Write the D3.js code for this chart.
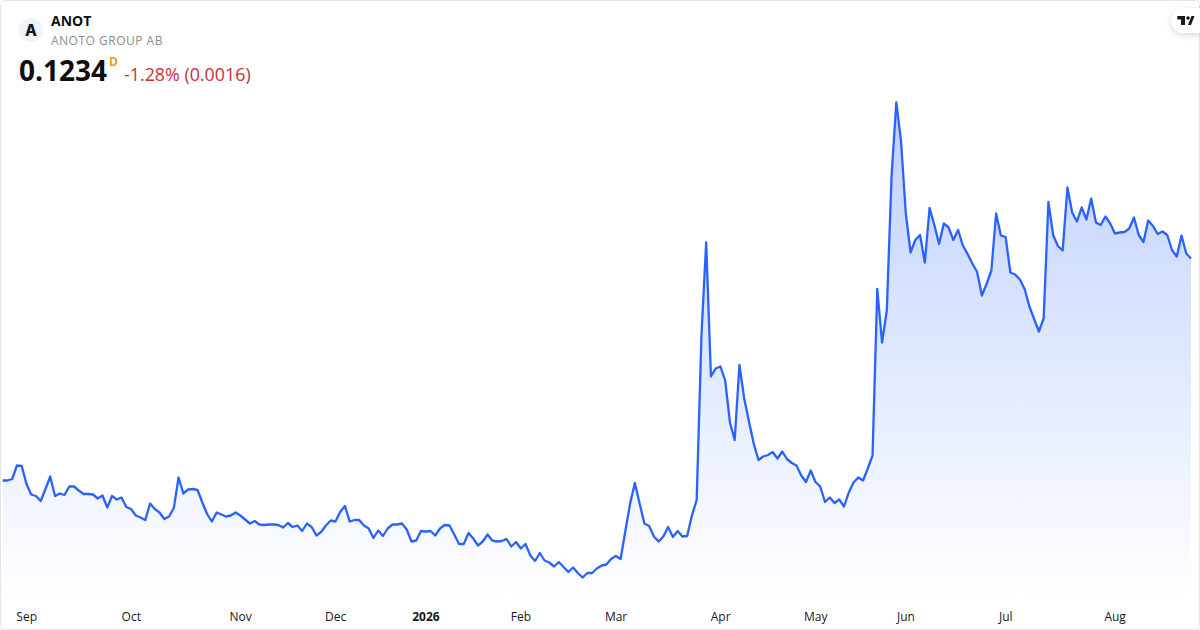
<!DOCTYPE html>
<html>
<head>
<meta charset="utf-8">
<script src="https://cdn.jsdelivr.net/npm/d3@7"></script>
<style>
  html, body { margin: 0; padding: 0; background: #fff; }
  svg { display: block; }
  text { font-family: "Open Sans", sans-serif; }
</style>
</head>
<body>
<svg id="chart" width="1200" height="630"></svg>
<script>
var symbol = "ANOT";
var companyName = "ANOTO GROUP AB";
var lastPrice = "0.1234";
var changeText = "-1.28% (0.0016)";
var intervalFlag = "D";

// daily closes
var closes = [
  0.0790,0.0790,0.0793,0.0820,0.0819,0.0783,0.0762,0.0759,0.0749,0.0773,
  0.0798,0.0759,0.0764,0.0761,0.0778,0.0778,0.0770,0.0763,0.0763,0.0762,
  0.0754,0.0760,0.0736,0.0759,0.0752,0.0756,0.0737,0.0733,0.0720,0.0716,
  0.0711,0.0744,0.0733,0.0726,0.0713,0.0718,0.0735,0.0796,0.0764,0.0772,
  0.0773,0.0771,0.0746,0.0723,0.0708,0.0726,0.0722,0.0718,0.0720,0.0726,
  0.0720,0.0712,0.0704,0.0709,0.0702,0.0701,0.0702,0.0702,0.0701,0.0696,
  0.0705,0.0697,0.0700,0.0689,0.0704,0.0697,0.0680,0.0687,0.0700,0.0710,
  0.0708,0.0727,0.0739,0.0708,0.0711,0.0711,0.0700,0.0694,0.0675,0.0690,
  0.0679,0.0694,0.0702,0.0702,0.0704,0.0692,0.0668,0.0670,0.0689,0.0688,
  0.0689,0.0680,0.0694,0.0701,0.0700,0.0682,0.0663,0.0663,0.0685,0.0674,
  0.0660,0.0668,0.0682,0.0670,0.0668,0.0669,0.0673,0.0658,0.0667,0.0654,
  0.0663,0.0640,0.0629,0.0645,0.0630,0.0626,0.0618,0.0627,0.0617,0.0607,
  0.0616,0.0605,0.0596,0.0605,0.0605,0.0614,0.0620,0.0622,0.0633,0.0639,
  0.0633,0.0689,0.0744,0.0785,0.0744,0.0704,0.0699,0.0678,0.0668,0.0678,
  0.0697,0.0677,0.0689,0.0678,0.0679,0.0720,0.0751,0.1078,0.1266,0.0998,
  0.1014,0.1018,0.0990,0.0906,0.0871,0.1021,0.0954,0.0908,0.0864,0.0831,
  0.0838,0.0841,0.0847,0.0834,0.0848,0.0833,0.0825,0.0820,0.0800,0.0787,
  0.0810,0.0787,0.0778,0.0747,0.0756,0.0745,0.0752,0.0738,0.0766,0.0786,
  0.0796,0.0790,0.0814,0.0840,0.1173,0.1066,0.1130,0.1398,0.1546,0.1468,
  0.1324,0.1246,0.1271,0.1281,0.1226,0.1335,0.1301,0.1263,0.1304,0.1296,
  0.1271,0.1291,0.1260,0.1243,0.1224,0.1207,0.1160,0.1183,0.1210,0.1324,
  0.1280,0.1277,0.1206,0.1202,0.1192,0.1173,0.1138,0.1113,0.1088,0.1114,
  0.1347,0.1281,0.1259,0.1250,0.1376,0.1326,0.1308,0.1336,0.1312,0.1354,
  0.1306,0.1301,0.1318,0.1304,0.1284,0.1286,0.1287,0.1294,0.1316,0.1281,
  0.1267,0.1310,0.1299,0.1283,0.1288,0.1281,0.1251,0.1238,0.1280,0.1244,
  0.1234
];
var monthLabels = ["Sep","Oct","Nov","Dec","2026","Feb","Mar","Apr","May","Jun","Jul","Aug"];
var monthBars = [5,27,50,70,89,109,129,151,171,190,211,234];

var svg = d3.select("#chart");
var x = d3.scaleLinear().domain([0, closes.length - 1]).range([2.7, 1191]);
var y = d3.scaleLinear().domain([0.0596, 0.1546]).range([577.5, 102.5]);
var floorY = 600;

var grad = svg.append("defs").append("linearGradient")
  .attr("id", "fade").attr("gradientUnits", "userSpaceOnUse")
  .attr("x1", 0).attr("x2", 0).attr("y1", y(0.1546)).attr("y2", floorY);
grad.append("stop").attr("offset", 0).attr("stop-color", "#2962ff").attr("stop-opacity", 0.3);
grad.append("stop").attr("offset", 1).attr("stop-color", "#2962ff").attr("stop-opacity", 0);

var area = d3.area().x(function(d, i) { return x(i); }).y0(floorY).y1(function(d) { return y(d); });
var line = d3.line().x(function(d, i) { return x(i); }).y(function(d) { return y(d); });

svg.append("path").datum(closes).attr("d", area).attr("fill", "url(#fade)");
svg.append("path").datum(closes).attr("d", line)
  .attr("fill", "none").attr("stroke", "#2962ff").attr("stroke-width", 2.3).attr("stroke-linejoin", "round");

// month axis
var axis = d3.axisBottom(x).tickValues(monthBars).tickSize(0)
  .tickFormat(function(d, i) { return monthLabels[i]; });
var axisG = svg.append("g").attr("transform", "translate(-0.3,618)").call(axis);
axisG.select(".domain").remove();
axisG.selectAll("text").attr("dy", 0).attr("y", 0).attr("dominant-baseline", "middle")
  .attr("fill", "#131722").style("font-family", '"Open Sans", sans-serif').style("font-size", "12px")
  .style("font-weight", function(d, i) { return monthLabels[i] == "2026" ? 700 : 400; });

// card border
svg.append("rect").attr("x", 0.5).attr("y", 0.5).attr("width", 1199).attr("height", 629)
  .attr("rx", 4).attr("fill", "none").attr("stroke", "#e6e6e6");

// header
svg.append("circle").attr("cx", 31).attr("cy", 30).attr("r", 12).attr("fill", "#f0f3fa");
svg.append("text").attr("x", 31).attr("y", 35.5).attr("text-anchor", "middle")
  .style("font-family", "Inter, sans-serif")
  .attr("font-size", 15.5).attr("font-weight", 800).attr("fill", "#131722").text(symbol[0]);
svg.append("text").attr("x", 51).attr("y", 26).attr("font-size", 14).attr("font-weight", 700)
  .attr("fill", "#0f0f0f").text(symbol);
svg.append("text").attr("x", 51).attr("y", 45).attr("font-size", 12).attr("fill", "#8c8c8c")
  .attr("letter-spacing", 0.5).text(companyName);
svg.append("text").attr("x", 19).attr("y", 81).attr("font-size", 28).attr("font-weight", 700)
  .attr("fill", "#0f0f0f").text(lastPrice);
svg.append("text").attr("x", 109).attr("y", 66).attr("font-size", 12).attr("font-weight", 700)
  .attr("fill", "#ff9800").text(intervalFlag);
svg.append("text").attr("x", 124).attr("y", 81).attr("font-size", 17.85)
  .attr("fill", "#cc2f3c").text(changeText);

// logo badge
svg.append("rect").attr("x", 1171).attr("y", 8).attr("width", 40).attr("height", 25).attr("rx", 12.5)
  .attr("fill", "#fff").style("filter", "drop-shadow(0 2px 3px rgba(0,0,0,.15))");
svg.append("path").attr("fill", "#131722")
  .attr("d", "M1177.3 16H1185V25H1181V19.5H1177.3Z M1188 25L1191.5 16H1194.5L1191 25Z");
svg.append("circle").attr("cx", 1188).attr("cy", 18).attr("r", 1.8).attr("fill", "#131722");
</script>
</body>
</html>
